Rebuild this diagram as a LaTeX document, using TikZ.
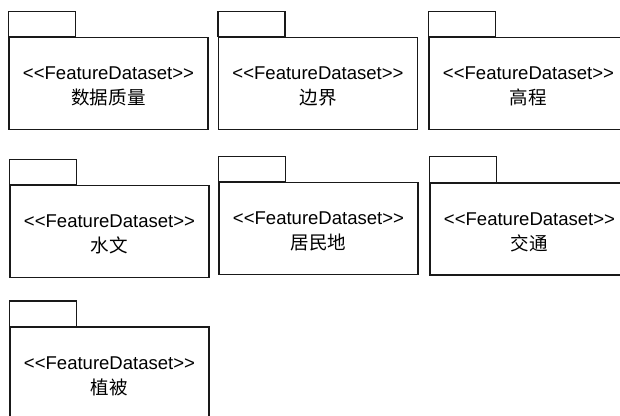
\documentclass[tikz,border=0pt]{standalone}
\usepackage{fontspec}
\setmainfont{Liberation Sans}
\newfontfamily\cjk{Noto Sans CJK SC}
\usepackage{tikz}
\usetikzlibrary{positioning}
\tikzstyle{dataset} = [
    rectangle,
    minimum width=149.25pt,
    minimum height=69pt,
    inner sep=0pt,
    align=center,
    draw=black!90,
    line width=0.9pt,
    font=\fontsize{13.9}{18.75}\selectfont
]
\tikzstyle{tab} = [
    draw=black!90,
    line width=0.9pt
]
% stereotype line, kept apart so << and >> do not turn into guillemets
\newcommand{\fds}{\rule{0pt}{14pt}<{}<FeatureDataset>{}>}

\begin{document}
\begin{tikzpicture}[x=0.75pt, y=-0.75pt]
        \clip (0,0) rectangle (620,416);
        \useasboundingbox (0,0) rectangle (620,416);

        % Packages, first row
        \node[dataset] (quality) at (108.5, 83.5) {\fds\\{\cjk 数据质量}};
        \node[dataset] (border) at (318, 83.5) {\fds\\{\cjk 边界}};
        \node[dataset] (elevation) at (528.5, 83.5) {\fds\\{\cjk 高程}};

        % Packages, second row
        \node[dataset] (hydro) at (109.5, 231.5) {\fds\\{\cjk 水文}};
        \node[dataset] (settle) at (318.5, 228.5) {\fds\\{\cjk 居民地}};
        \node[dataset] (traffic) at (529.5, 229) {\fds\\{\cjk 交通}};

        % Packages, third row
        \node[dataset] (veget) at (109.5, 373) {\fds\\{\cjk 植被}};

        % Tabs on top of each package
        \foreach \pkg in {quality, border, elevation, hydro, settle, traffic, veget}
            \draw[tab] (\pkg.north west) rectangle ++(67, -25.5);
    \end{tikzpicture}
\end{document}
